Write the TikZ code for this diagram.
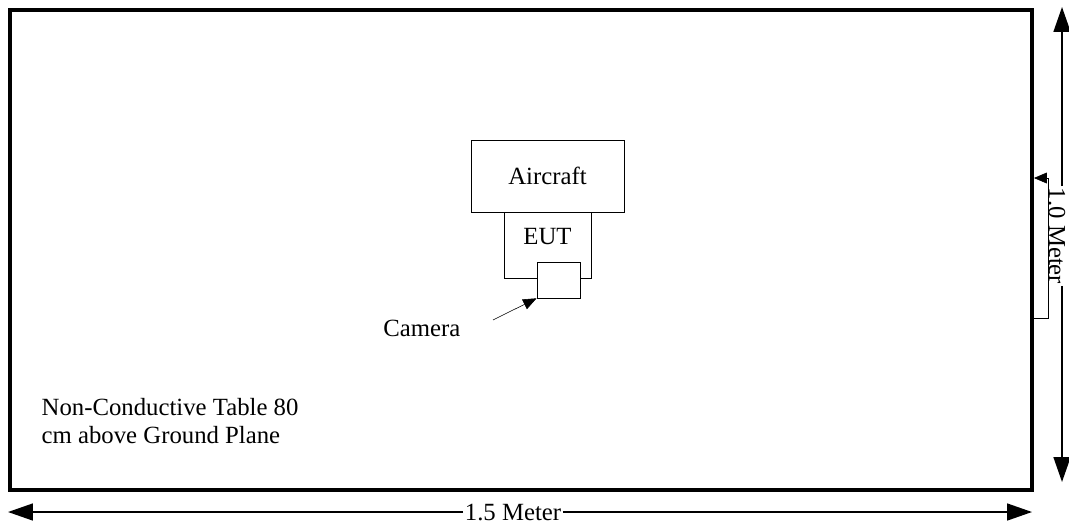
\documentclass[tikz,border=0pt]{standalone}
\usepackage{fontspec}
\setmainfont{Liberation Serif}
\usetikzlibrary{arrows.meta,positioning}

\tikzset{
  box/.style={draw, thin, fill=white, inner sep=0pt},
  dimtip/.style={line width=1.3pt, -{Triangle[length=0.62cm,width=0.42cm]}},
  lbl/.style={inner sep=1pt, font=\fontsize{17.6}{19.4}\selectfont}
}

\begin{document}
\begin{tikzpicture}[x=0.025cm, y=-0.025cm, every node/.style={font=\fontsize{17.6}{19.4}\selectfont}]
  \useasboundingbox (0,0) rectangle (1069,528);
  % table outline
  \node (table) [draw, line width=2.6pt, minimum width=25.55cm, minimum height=12cm, inner sep=0pt] at (521,250) {};
  % aircraft with EUT and camera
  \node (aircraft) [box, minimum width=3.83cm, minimum height=1.8cm] at (547.5,176) {Aircraft};
  \node (eut) [box, minimum width=2.18cm, minimum height=1.65cm, below=0pt of aircraft, text depth=0.45cm] {EUT};
  \node (camera) [box, minimum width=1.08cm, minimum height=0.9cm] at (558.5,280) {};
  \node (camlbl) [lbl, anchor=east] at (462,328) {Camera};
  \coordinate (c0) at (493,320);
  \draw[-{Triangle[length=0.34cm,width=0.27cm]}] (c0) -- (camera.south west);
  % table note
  \node (note) [lbl, anchor=north west, align=left] at (40,397) {Non-Conductive Table 80\\cm above Ground Plane};
  % width dimension
  \node (wlbl) [lbl, fill=white] at (513,512) {1.5 Meter};
  \coordinate (wl) at (8,512);
  \coordinate (wr) at (1032,512);
  \draw[dimtip] (wlbl) -- (wl);
  \draw[dimtip] (wlbl) -- (wr);
  % depth dimension
  \node (dlbl) [lbl, rotate=-90] at (1057,236) {1.0 Meter};
  \coordinate (dt) at (1062,7);
  \coordinate (db) at (1062,482);
  \draw[dimtip] (dt |- dlbl.west) -- (dt);
  \draw[dimtip] (db |- dlbl.east) -- (db);
  % bracket
  \coordinate (b1) at (1048,178);
  \coordinate (b2) at (1048,318);
  \draw[-{Triangle[length=0.32cm,width=0.27cm]}] (b1) -- (table.east |- b1);
  \draw (b1) -- (b2) -- (table.east |- b2);
\end{tikzpicture}
\end{document}
